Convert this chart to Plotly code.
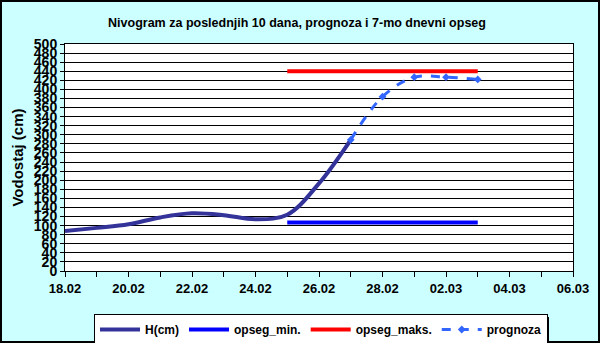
import plotly.graph_objects as go

h_dates = ["2023-02-18", "2023-02-19", "2023-02-20", "2023-02-21", "2023-02-22",
           "2023-02-23", "2023-02-24", "2023-02-25", "2023-02-26", "2023-02-27"]
h_values = [88, 95, 103, 118, 127, 123, 114, 124, 193, 289]

range_dates = ["2023-02-25", "2023-03-03"]
opseg_min = [107, 107]
opseg_maks = [440, 440]

prog_dates = ["2023-02-27", "2023-02-28", "2023-03-01", "2023-03-02", "2023-03-03"]
prog_values = [289, 384, 427, 427, 422]

title_text = "Nivogram za poslednjih 10 dana, prognoza i 7-mo dnevni opseg"
y_title = "Vodostaj (cm)"

W, H = 600, 343
ML, MR, MT, MB = 65, 27, 44, 72
PW, PH = W - ML - MR, H - MT - MB

fnt = "Liberation Sans, Arial, sans-serif"

fig = go.Figure()
fig.add_trace(go.Scatter(x=h_dates, y=h_values, name="H(cm)", mode="lines",
                         line=dict(color="#333399", width=4, shape="spline")))
fig.add_trace(go.Scatter(x=range_dates, y=opseg_min, name="opseg_min.", mode="lines",
                         line=dict(color="#0000FF", width=4)))
fig.add_trace(go.Scatter(x=range_dates, y=opseg_maks, name="opseg_maks.", mode="lines",
                         line=dict(color="#FF0000", width=4)))
fig.add_trace(go.Scatter(x=prog_dates, y=prog_values, name="prognoza", mode="lines+markers",
                         line=dict(color="#3366FF", width=3, dash="dash", shape="spline"),
                         marker=dict(symbol="diamond", size=6, color="#3366FF")))

def px(x):
    return (x - ML) / PW

def py(y):
    return (H - MB - y) / PH

shapes = [
    # outer border
    dict(type="rect", xref="paper", yref="paper", x0=px(1), x1=px(599), y0=py(342), y1=py(1),
         line=dict(color="black", width=2), fillcolor="rgba(0,0,0,0)", layer="below"),
    # legend shadow
    dict(type="rect", xref="paper", yref="paper", x0=px(98), x1=px(549), y0=py(343), y1=py(317),
         line=dict(width=0), fillcolor="black", layer="above"),
]

fig.update_layout(
    width=W, height=H,
    margin=dict(l=ML, r=MR, t=MT, b=MB, autoexpand=False),
    paper_bgcolor="#CCFFFF",
    plot_bgcolor="white",
    font=dict(family=fnt, color="black"),
    title=dict(text="<b>" + title_text + "</b>", x=297 / W, xanchor="center",
               y=1 - 23 / H, yanchor="middle", font=dict(size=12.5, family=fnt)),
    showlegend=True,
    legend=dict(orientation="h", x=px(94), y=py(314), xanchor="left", yanchor="top",
                bgcolor="white", bordercolor="black", borderwidth=1,
                font=dict(size=12, family=fnt, weight="bold"), itemwidth=40, tracegroupgap=0),
    shapes=shapes,
)
fig.update_xaxes(
    type="date", range=["2023-02-18", "2023-03-06"],
    dtick=2 * 86400000, tick0="2023-02-18", tickformat="<b>%d.%m</b>",
    ticks="outside", ticklen=5, tickcolor="black",
    minor=dict(dtick=86400000, ticks="outside", ticklen=5, tickcolor="black", showgrid=False),
    showgrid=False, showline=True, linecolor="black", linewidth=1, mirror=True,
    tickfont=dict(size=13, family=fnt), zeroline=False,
)
fig.update_yaxes(
    range=[0, 500], dtick=20, tick0=0,
    ticks="outside", ticklen=4, tickcolor="black",
    showgrid=True, gridcolor="black", gridwidth=1,
    showline=True, linecolor="black", linewidth=1, mirror=True,
    tickfont=dict(size=14, family=fnt), zeroline=False,
    title=dict(text="<b>" + y_title + "</b>", font=dict(size=15, family=fnt), standoff=6),
    tickprefix="<b>", ticksuffix="</b>",
)

fig.write_html("out.html")
